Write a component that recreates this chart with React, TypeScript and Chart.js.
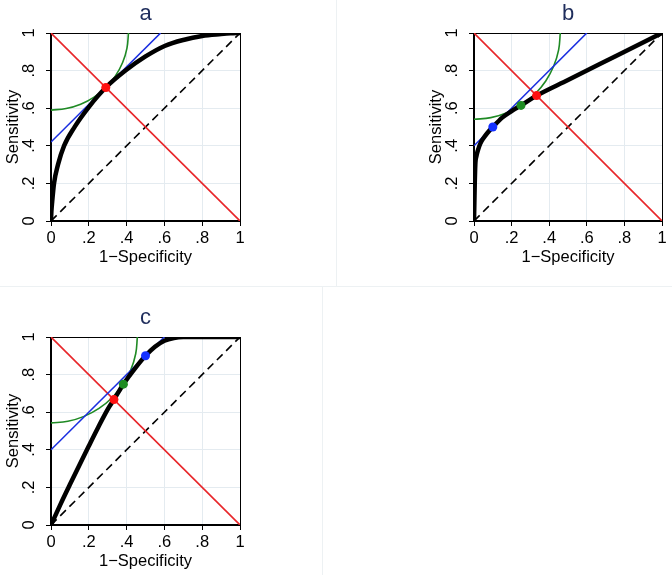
import React, { useEffect, useRef } from 'react';
import { Chart, registerables } from 'chart.js';

Chart.register(...registerables);

// ---------- shared axis content ----------
const tickValues = [0, 0.2, 0.4, 0.6, 0.8, 1];
const tickLabels = ['0', '.2', '.4', '.6', '.8', '1'];
const xAxisTitle = '1\u2212Specificity';
const yAxisTitle = 'Sensitivity';

// reference lines
const diagX = [0, 1];
const diagY = [0, 1];
const antiX = [0, 1];
const antiY = [1, 0];

// ---------- panel a ----------
const rocAx = [0, 0.002, 0.006, 0.016, 0.037, 0.069, 0.126, 0.2, 0.29, 0.394, 0.498, 0.601, 0.7, 0.8, 0.9, 0.95, 1];
const rocAy = [0, 0.05, 0.1, 0.2, 0.3, 0.4, 0.502, 0.606, 0.71, 0.8, 0.874, 0.931, 0.963, 0.984, 0.994, 0.998, 1];
const tanAx = [0, 0.58];
const tanAy = [0.42, 1];
const arcAx = [0, 0.08, 0.157, 0.228, 0.29, 0.341, 0.379, 0.402, 0.41];
const arcAy = [0.59, 0.598, 0.621, 0.659, 0.71, 0.772, 0.843, 0.92, 1];
const redAx = [0.29];
const redAy = [0.71];

// ---------- panel b ----------
const rocBx = [0, 0.002, 0.004, 0.007, 0.013, 0.022, 0.034, 0.05, 0.07, 0.1, 0.15, 0.2, 0.25, 0.3, 0.333, 0.5, 0.75, 1];
const rocBy = [0, 0.1, 0.2, 0.3, 0.345, 0.38, 0.413, 0.44, 0.467, 0.5, 0.55, 0.585, 0.615, 0.647, 0.667, 0.75, 0.875, 1];
const tanBx = [0, 0.6];
const tanBy = [0.4, 1];
const arcBx = [0, 0.0896, 0.1757, 0.255, 0.3246, 0.3817, 0.4241, 0.4502, 0.459];
const arcBy = [0.541, 0.5498, 0.5759, 0.6183, 0.6754, 0.745, 0.8243, 0.9104, 1];
const blueBx = [0.1];
const blueBy = [0.5];
const greenBx = [0.25];
const greenBy = [0.615];
const redBx = [0.333];
const redBy = [0.667];

// ---------- panel c ----------
const rocCx = [0, 0.05, 0.1, 0.15, 0.2, 0.25, 0.3, 0.333, 0.383, 0.45, 0.5, 0.55, 0.6, 0.65, 0.7, 0.8, 0.9, 1];
const rocCy = [0, 0.11, 0.215, 0.318, 0.42, 0.52, 0.615, 0.667, 0.749, 0.84, 0.9, 0.948, 0.98, 0.995, 1, 1, 1, 1];
const tanCx = [0, 0.6];
const tanCy = [0.4, 1];
const arcCx = [0, 0.0892, 0.1749, 0.2539, 0.3231, 0.38, 0.4222, 0.4482, 0.457];
const arcCy = [0.543, 0.5518, 0.5778, 0.62, 0.6769, 0.7461, 0.8251, 0.9108, 1];
const blueCx = [0.5];
const blueCy = [0.9];
const greenCx = [0.383];
const greenCy = [0.749];
const redCx = [0.333];
const redCy = [0.667];

// ---------- styles ----------
const FONT = '"Liberation Sans", Arial, Helvetica, sans-serif';
const GRID = '#e4ebf0';
const RED_LINE = '#e8262a';
const BLUE_LINE = '#1a2ee0';
const GREEN_LINE = '#1f8a24';
const RED_PT = '#ff1010';
const BLUE_PT = '#1430ff';
const GREEN_PT = '#1e8c22';
const TITLE_COLOR = '#1f2d5c';

type Pt = { x: number[]; y: number[]; color: string };
type Panel = {
  title: string;
  rocX: number[]; rocY: number[];
  tanX: number[]; tanY: number[];
  arcX: number[]; arcY: number[];
  points: Pt[];
  box: { left: number; top: number; w: number; h: number };
  pad: { left: number; top: number; right: number; bottom: number };
};

const panels: Panel[] = [
  {
    title: 'a', rocX: rocAx, rocY: rocAy, tanX: tanAx, tanY: tanAy, arcX: arcAx, arcY: arcAy,
    points: [{ x: redAx, y: redAy, color: RED_PT }],
    box: { left: 0, top: 0, w: 336, h: 286 },
    pad: { left: 0, top: 33, right: 96, bottom: 15 },
  },
  {
    title: 'b', rocX: rocBx, rocY: rocBy, tanX: tanBx, tanY: tanBy, arcX: arcBx, arcY: arcBy,
    points: [
      { x: blueBx, y: blueBy, color: BLUE_PT },
      { x: greenBx, y: greenBy, color: GREEN_PT },
      { x: redBx, y: redBy, color: RED_PT },
    ],
    box: { left: 336, top: 0, w: 336, h: 286 },
    pad: { left: 87, top: 33, right: 10, bottom: 15 },
  },
  {
    title: 'c', rocX: rocCx, rocY: rocCy, tanX: tanCx, tanY: tanCy, arcX: arcCx, arcY: arcCy,
    points: [
      { x: blueCx, y: blueCy, color: BLUE_PT },
      { x: greenCx, y: greenCy, color: GREEN_PT },
      { x: redCx, y: redCy, color: RED_PT },
    ],
    box: { left: 0, top: 286, w: 336, h: 289 },
    pad: { left: 0, top: 51, right: 96, bottom: 0 },
  },
];

const pts = (xs: number[], ys: number[]) => xs.map((x, i) => ({ x, y: ys[i] }));

function PanelChart({ p }: { p: Panel }) {
  const ref = useRef<HTMLCanvasElement | null>(null);
  useEffect(() => {
    if (!ref.current) return;
    const lineBase = { showLine: true, pointRadius: 0, pointHoverRadius: 0, fill: false };
    const datasets: any[] = [
      { ...lineBase, data: pts(diagX, diagY), borderColor: '#000', borderWidth: 1.6, borderDash: [8, 5], order: 6 },
      { ...lineBase, data: pts(antiX, antiY), borderColor: RED_LINE, borderWidth: 1.6, order: 5 },
      { ...lineBase, data: pts(p.arcX, p.arcY), borderColor: GREEN_LINE, borderWidth: 1.6, tension: 0.4, order: 4 },
      { ...lineBase, data: pts(p.tanX, p.tanY), borderColor: BLUE_LINE, borderWidth: 1.6, order: 3 },
      { ...lineBase, data: pts(p.rocX, p.rocY), borderColor: '#000', borderWidth: 4.5, cubicInterpolationMode: 'monotone', order: 2, borderCapStyle: 'round', borderJoinStyle: 'round' },
      ...p.points.map((pt) => ({
        showLine: false,
        data: pts(pt.x, pt.y),
        pointRadius: 4.5,
        pointHoverRadius: 4.5,
        pointBackgroundColor: pt.color,
        pointBorderWidth: 0,
        borderColor: pt.color,
        order: 1,
      })),
    ];

    const framePlugin = {
      id: 'frame',
      beforeDatasetsDraw(chart: any) {
        const { ctx, chartArea: a } = chart;
        ctx.save();
        ctx.strokeStyle = '#000';
        ctx.lineWidth = 1;
        ctx.strokeRect(Math.round(a.left) - 0.5, Math.round(a.top) + 0.5, Math.round(a.right - a.left) + 1, Math.round(a.bottom - a.top) - 1);
        ctx.restore();
      },
    };
    const titlePlugin = {
      id: 'paneltitle',
      afterDraw(chart: any) {
        const { ctx, chartArea: a } = chart;
        ctx.save();
        ctx.font = `22px ${FONT}`;
        ctx.fillStyle = TITLE_COLOR;
        ctx.textAlign = 'center';
        ctx.textBaseline = 'alphabetic';
        ctx.fillText(p.title, (a.left + a.right) / 2, a.top - 13);
        ctx.restore();
      },
    };

    const setTicks = (s: any) => {
      s.ticks = tickValues.map((v) => ({ value: v }));
    };
    const tickCb = (_v: any, i: number) => tickLabels[i];

    const chart = new Chart(ref.current, {
      type: 'scatter',
      data: { datasets },
      options: {
        animation: false,
        responsive: false,
        devicePixelRatio: 1,
        events: [],
        layout: { padding: p.pad },
        plugins: { legend: { display: false }, tooltip: { enabled: false }, title: { display: false } },
        scales: {
          x: {
            type: 'linear',
            min: 0,
            max: 1,
            afterBuildTicks: setTicks,
            afterFit: (s: any) => { s.height = 50; },
            ticks: { callback: tickCb, font: { size: 16.5, family: FONT }, color: '#000', padding: 3, autoSkip: false, maxRotation: 0 },
            grid: { color: GRID, lineWidth: 1, tickLength: 5, tickColor: '#000', drawTicks: true },
            border: { display: true, color: '#000', width: 1 },
            title: { display: true, text: xAxisTitle, font: { size: 16.5, family: FONT }, color: '#000', padding: { top: 0, bottom: 4 } },
          },
          y: {
            type: 'linear',
            min: 0,
            max: 1,
            afterBuildTicks: setTicks,
            afterFit: (s: any) => { s.width = 51; },
            ticks: { callback: tickCb, font: { size: 16.5, family: FONT }, color: '#000', padding: 10, autoSkip: false, minRotation: 90, maxRotation: 90, crossAlign: 'center' },
            grid: { color: GRID, lineWidth: 1, tickLength: 5, tickColor: '#000', drawTicks: true },
            border: { display: true, color: '#000', width: 1 },
            title: { display: true, text: yAxisTitle, font: { size: 16.5, family: FONT }, color: '#000', padding: { top: 4, bottom: 0 } },
          },
        },
      } as any,
      plugins: [framePlugin, titlePlugin],
    });
    return () => chart.destroy();
  }, [p]);

  return (
    <canvas
      ref={ref}
      width={p.box.w}
      height={p.box.h}
      style={{ position: 'absolute', left: p.box.left, top: p.box.top, width: p.box.w, height: p.box.h }}
    />
  );
}

export default function App() {
  return (
    <div style={{ position: 'absolute', left: 0, top: 0, width: 672, height: 575, background: '#fff', overflow: 'hidden' }}>
      <div style={{ position: 'absolute', left: 336, top: 0, width: 1, height: 286, background: '#edf1f3' }} />
      <div style={{ position: 'absolute', left: 0, top: 286, width: 672, height: 1, background: '#edf1f3' }} />
      <div style={{ position: 'absolute', left: 322, top: 286, width: 1, height: 289, background: '#edf1f3' }} />
      {panels.map((p) => (
        <PanelChart key={p.title} p={p} />
      ))}
    </div>
  );
}
